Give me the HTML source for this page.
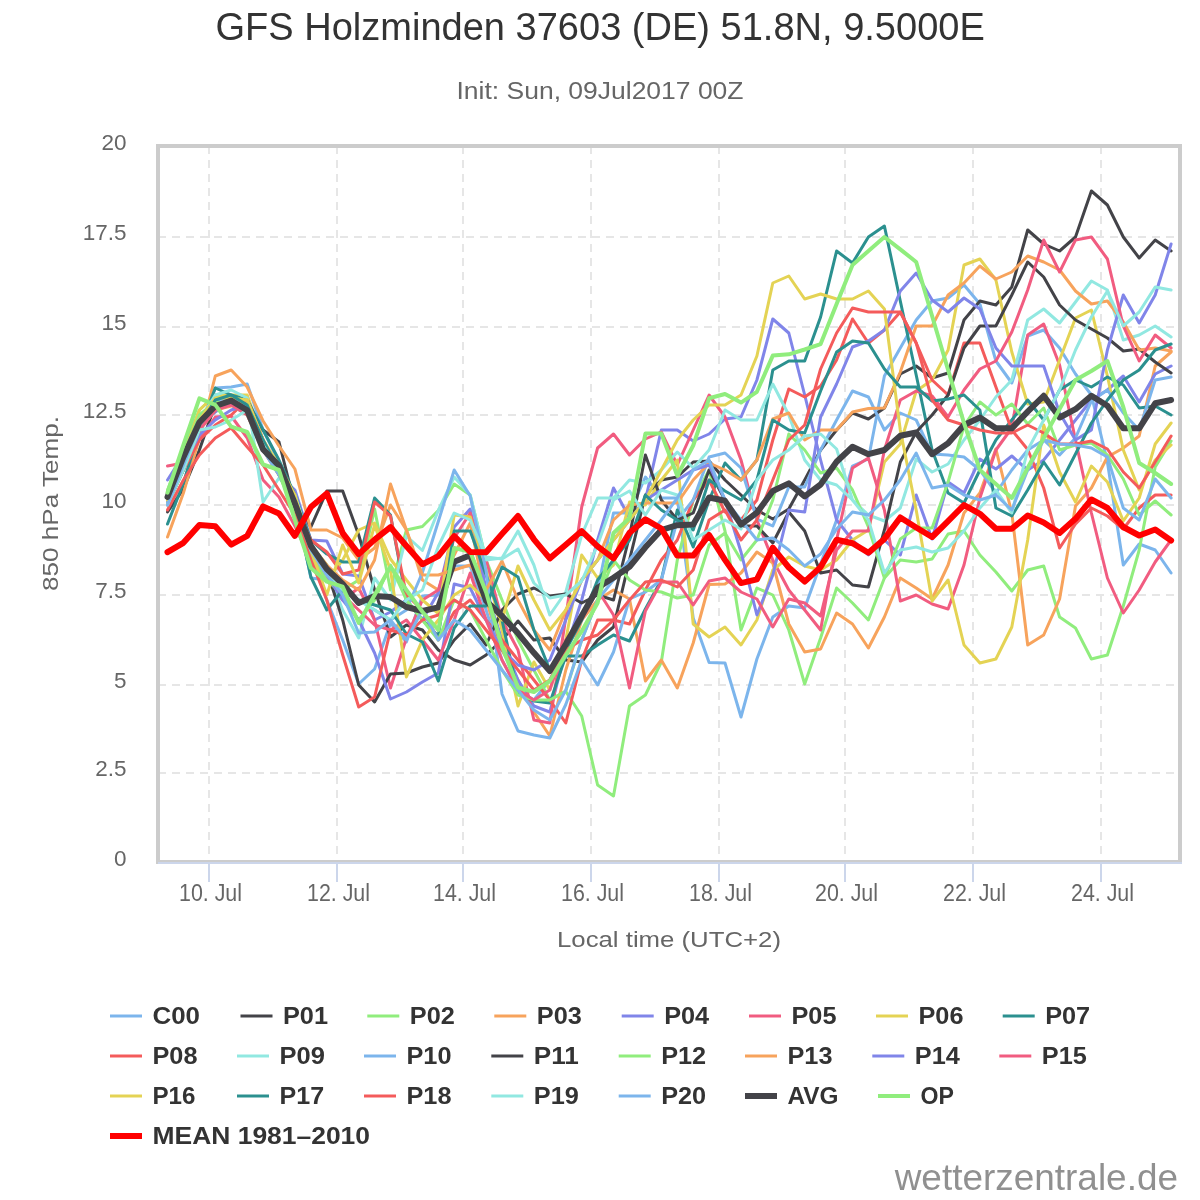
<!DOCTYPE html><html><head><meta charset="utf-8"><style>html,body{margin:0;padding:0;background:#fff;}svg{display:block;will-change:transform;}text{font-family:"Liberation Sans",sans-serif;}</style></head><body>
<svg width="1200" height="1200" viewBox="0 0 1200 1200">
<rect x="0" y="0" width="1200" height="1200" fill="#ffffff"/>
<text x="215.5" y="40" font-size="38.5" fill="#333333" text-anchor="start" font-weight="normal" textLength="769.3" lengthAdjust="spacingAndGlyphs">GFS Holzminden 37603 (DE) 51.8N, 9.5000E</text>
<text x="456.5" y="99.3" font-size="23" fill="#666666" text-anchor="start" font-weight="normal" textLength="287" lengthAdjust="spacingAndGlyphs">Init: Sun, 09Jul2017 00Z</text>
<line x1="158" y1="773.0" x2="1180" y2="773.0" stroke="#e6e6e6" stroke-width="2" stroke-dasharray="8,6"/>
<line x1="158" y1="685.0" x2="1180" y2="685.0" stroke="#e6e6e6" stroke-width="2" stroke-dasharray="8,6"/>
<line x1="158" y1="595.0" x2="1180" y2="595.0" stroke="#e6e6e6" stroke-width="2" stroke-dasharray="8,6"/>
<line x1="158" y1="505.0" x2="1180" y2="505.0" stroke="#e6e6e6" stroke-width="2" stroke-dasharray="8,6"/>
<line x1="158" y1="415.0" x2="1180" y2="415.0" stroke="#e6e6e6" stroke-width="2" stroke-dasharray="8,6"/>
<line x1="158" y1="327.0" x2="1180" y2="327.0" stroke="#e6e6e6" stroke-width="2" stroke-dasharray="8,6"/>
<line x1="158" y1="237.0" x2="1180" y2="237.0" stroke="#e6e6e6" stroke-width="2" stroke-dasharray="8,6"/>
<line x1="209.0" y1="146" x2="209.0" y2="862" stroke="#e6e6e6" stroke-width="2" stroke-dasharray="8,6"/>
<line x1="337.0" y1="146" x2="337.0" y2="862" stroke="#e6e6e6" stroke-width="2" stroke-dasharray="8,6"/>
<line x1="463.0" y1="146" x2="463.0" y2="862" stroke="#e6e6e6" stroke-width="2" stroke-dasharray="8,6"/>
<line x1="591.0" y1="146" x2="591.0" y2="862" stroke="#e6e6e6" stroke-width="2" stroke-dasharray="8,6"/>
<line x1="719.0" y1="146" x2="719.0" y2="862" stroke="#e6e6e6" stroke-width="2" stroke-dasharray="8,6"/>
<line x1="845.0" y1="146" x2="845.0" y2="862" stroke="#e6e6e6" stroke-width="2" stroke-dasharray="8,6"/>
<line x1="973.0" y1="146" x2="973.0" y2="862" stroke="#e6e6e6" stroke-width="2" stroke-dasharray="8,6"/>
<line x1="1101.0" y1="146" x2="1101.0" y2="862" stroke="#e6e6e6" stroke-width="2" stroke-dasharray="8,6"/>
<polyline points="167.5,502.0 183.4,470.0 199.4,430.0 215.3,388.0 231.2,387.0 247.2,384.0 263.1,430.0 279.0,462.0 294.9,495.0 310.9,555.0 326.8,600.0 342.7,640.0 358.7,684.0 374.6,669.0 390.5,623.0 406.4,642.0 422.4,596.0 438.3,595.0 454.2,566.0 470.2,566.0 486.1,610.0 502.0,660.0 518.0,690.0 533.9,700.0 549.8,680.0 565.8,650.0 581.7,620.0 597.6,590.0 613.5,513.0 629.5,513.0 645.4,477.0 661.3,498.0 677.3,498.0 693.2,618.0 709.1,662.5 725.0,663.0 741.0,717.0 756.9,659.0 772.8,617.0 788.8,606.0 804.7,608.0 820.6,564.0 836.6,520.0 852.5,466.0 868.4,459.0 884.4,376.0 900.3,348.0 916.2,320.0 932.1,301.0 948.1,298.0 964.0,285.0 979.9,304.0 995.9,361.0 1011.8,383.0 1027.7,336.0 1043.7,330.0 1059.6,348.0 1075.5,374.0 1091.4,395.0 1107.4,462.0 1123.3,565.0 1139.2,544.0 1155.2,550.0 1171.1,573.0" fill="none" stroke="#7cb5ec" stroke-width="3" stroke-linejoin="round" stroke-linecap="round"/>
<polyline points="167.5,512.0 183.4,489.0 199.4,450.0 215.3,404.0 231.2,404.0 247.2,412.0 263.1,430.0 279.0,442.0 294.9,505.0 310.9,527.0 326.8,491.0 342.7,491.0 358.7,535.0 374.6,590.0 390.5,637.0 406.4,625.0 422.4,630.0 438.3,650.0 454.2,660.0 470.2,665.0 486.1,655.0 502.0,640.0 518.0,621.0 533.9,640.0 549.8,638.0 565.8,660.0 581.7,662.0 597.6,640.0 613.5,627.0 629.5,560.0 645.4,495.0 661.3,480.0 677.3,477.0 693.2,462.0 709.1,461.0 725.0,480.0 741.0,495.0 756.9,510.0 772.8,519.0 788.8,509.0 804.7,480.0 820.6,450.0 836.6,430.0 852.5,413.0 868.4,419.0 884.4,408.0 900.3,374.0 916.2,366.0 932.1,378.0 948.1,373.0 964.0,320.0 979.9,301.0 995.9,305.0 1011.8,287.0 1027.7,230.0 1043.7,244.0 1059.6,251.0 1075.5,237.0 1091.4,191.0 1107.4,205.0 1123.3,237.0 1139.2,258.0 1155.2,240.0 1171.1,251.0" fill="none" stroke="#434348" stroke-width="3" stroke-linejoin="round" stroke-linecap="round"/>
<polyline points="167.5,490.0 183.4,450.0 199.4,410.0 215.3,395.0 231.2,400.0 247.2,410.0 263.1,440.0 279.0,470.0 294.9,500.0 310.9,545.0 326.8,565.0 342.7,590.0 358.7,580.0 374.6,509.0 390.5,590.0 406.4,530.0 422.4,526.5 438.3,510.5 454.2,484.0 470.2,495.0 486.1,560.0 502.0,600.0 518.0,640.0 533.9,670.0 549.8,700.0 565.8,691.5 581.7,716.0 597.6,785.0 613.5,796.0 629.5,706.0 645.4,695.0 661.3,662.0 677.3,560.0 693.2,500.0 709.1,470.0 725.0,531.0 741.0,630.0 756.9,588.0 772.8,595.0 788.8,630.0 804.7,684.0 820.6,638.0 836.6,588.0 852.5,603.0 868.4,620.0 884.4,578.0 900.3,560.0 916.2,562.0 932.1,559.0 948.1,534.0 964.0,531.0 979.9,555.0 995.9,572.0 1011.8,591.0 1027.7,570.0 1043.7,566.0 1059.6,617.0 1075.5,628.0 1091.4,659.0 1107.4,655.0 1123.3,606.0 1139.2,550.0 1155.2,467.0 1171.1,441.0" fill="none" stroke="#90ed7d" stroke-width="3" stroke-linejoin="round" stroke-linecap="round"/>
<polyline points="167.5,537.0 183.4,493.0 199.4,438.0 215.3,376.0 231.2,370.0 247.2,387.0 263.1,421.0 279.0,446.0 294.9,469.0 310.9,530.0 326.8,530.0 342.7,538.0 358.7,560.0 374.6,548.0 390.5,505.0 406.4,530.0 422.4,580.0 438.3,590.0 454.2,555.0 470.2,523.0 486.1,600.0 502.0,650.0 518.0,680.0 533.9,712.0 549.8,736.0 565.8,670.0 581.7,620.0 597.6,600.0 613.5,590.0 629.5,599.0 645.4,681.0 661.3,660.0 677.3,688.0 693.2,643.0 709.1,584.5 725.0,584.0 741.0,573.0 756.9,552.0 772.8,563.0 788.8,624.0 804.7,652.0 820.6,649.0 836.6,613.0 852.5,624.0 868.4,648.0 884.4,617.0 900.3,578.0 916.2,588.0 932.1,599.0 948.1,565.0 964.0,513.0 979.9,493.0 995.9,449.0 1011.8,513.0 1027.7,645.0 1043.7,635.0 1059.6,599.0 1075.5,506.0 1091.4,488.0 1107.4,457.0 1123.3,448.0 1139.2,436.0 1155.2,366.0 1171.1,352.0" fill="none" stroke="#f7a35c" stroke-width="3" stroke-linejoin="round" stroke-linecap="round"/>
<polyline points="167.5,480.0 183.4,455.0 199.4,425.0 215.3,412.0 231.2,400.0 247.2,400.0 263.1,440.0 279.0,475.0 294.9,490.0 310.9,540.0 326.8,541.0 342.7,574.0 358.7,576.0 374.6,620.0 390.5,612.0 406.4,600.0 422.4,620.0 438.3,592.5 454.2,527.0 470.2,509.0 486.1,590.0 502.0,640.0 518.0,680.0 533.9,706.0 549.8,712.0 565.8,650.0 581.7,600.0 597.6,540.0 613.5,488.0 629.5,518.0 645.4,500.0 661.3,430.0 677.3,430.0 693.2,441.0 709.1,434.0 725.0,419.0 741.0,417.0 756.9,380.0 772.8,319.0 788.8,333.0 804.7,395.0 820.6,460.0 836.6,520.0 852.5,540.0 868.4,555.0 884.4,540.0 900.3,555.0 916.2,495.0 932.1,539.0 948.1,482.0 964.0,493.0 979.9,459.0 995.9,469.0 1011.8,456.0 1027.7,470.0 1043.7,460.0 1059.6,440.0 1075.5,420.0 1091.4,400.0 1107.4,390.0 1123.3,376.0 1139.2,402.0 1155.2,374.0 1171.1,366.0" fill="none" stroke="#8085e9" stroke-width="3" stroke-linejoin="round" stroke-linecap="round"/>
<polyline points="167.5,466.0 183.4,463.0 199.4,440.0 215.3,417.0 231.2,416.0 247.2,438.0 263.1,480.0 279.0,497.0 294.9,526.0 310.9,560.0 326.8,580.0 342.7,600.0 358.7,588.0 374.6,620.0 390.5,688.0 406.4,638.0 422.4,600.0 438.3,590.0 454.2,538.0 470.2,513.0 486.1,560.0 502.0,620.0 518.0,650.0 533.9,720.0 549.8,723.0 565.8,617.5 581.7,507.0 597.6,448.0 613.5,434.0 629.5,455.0 645.4,439.0 661.3,432.0 677.3,465.0 693.2,430.0 709.1,395.0 725.0,417.0 741.0,460.0 756.9,520.0 772.8,560.0 788.8,590.0 804.7,610.0 820.6,630.0 836.6,540.0 852.5,468.0 868.4,458.0 884.4,510.0 900.3,601.0 916.2,595.0 932.1,604.0 948.1,609.0 964.0,565.0 979.9,498.0 995.9,450.0 1011.8,428.0 1027.7,335.0 1043.7,324.0 1059.6,365.0 1075.5,440.0 1091.4,513.0 1107.4,578.0 1123.3,613.0 1139.2,590.0 1155.2,562.0 1171.1,540.0" fill="none" stroke="#f15c80" stroke-width="3" stroke-linejoin="round" stroke-linecap="round"/>
<polyline points="167.5,495.0 183.4,455.0 199.4,410.0 215.3,395.0 231.2,395.0 247.2,395.0 263.1,440.0 279.0,470.0 294.9,500.0 310.9,560.0 326.8,580.0 342.7,560.0 358.7,530.0 374.6,523.0 390.5,559.0 406.4,580.0 422.4,600.0 438.3,613.5 454.2,515.0 470.2,517.0 486.1,570.0 502.0,630.0 518.0,706.0 533.9,662.0 549.8,690.0 565.8,640.0 581.7,555.0 597.6,578.0 613.5,565.0 629.5,502.0 645.4,505.0 661.3,480.0 677.3,460.0 693.2,624.0 709.1,637.0 725.0,627.0 741.0,645.0 756.9,620.0 772.8,570.0 788.8,557.0 804.7,566.0 820.6,570.0 836.6,560.0 852.5,540.0 868.4,530.0 884.4,462.0 900.3,444.0 916.2,391.0 932.1,380.0 948.1,350.0 964.0,265.0 979.9,259.0 995.9,280.0 1011.8,352.0 1027.7,404.0 1043.7,402.0 1059.6,360.0 1075.5,318.0 1091.4,310.0 1107.4,376.0 1123.3,450.0 1139.2,490.0 1155.2,460.0 1171.1,445.0" fill="none" stroke="#e4d354" stroke-width="3" stroke-linejoin="round" stroke-linecap="round"/>
<polyline points="167.5,524.0 183.4,483.0 199.4,430.0 215.3,388.0 231.2,395.0 247.2,400.0 263.1,430.0 279.0,460.0 294.9,495.0 310.9,540.0 326.8,554.0 342.7,562.0 358.7,562.0 374.6,498.0 390.5,515.0 406.4,600.0 422.4,620.0 438.3,636.0 454.2,531.0 470.2,531.0 486.1,575.0 502.0,620.0 518.0,694.0 533.9,701.0 549.8,703.0 565.8,656.0 581.7,656.0 597.6,645.0 613.5,635.0 629.5,641.0 645.4,609.0 661.3,580.0 677.3,510.0 693.2,547.0 709.1,500.0 725.0,463.0 741.0,480.0 756.9,460.0 772.8,370.0 788.8,361.0 804.7,361.0 820.6,317.0 836.6,251.0 852.5,263.0 868.4,237.0 884.4,226.0 900.3,301.0 916.2,375.0 932.1,450.0 948.1,493.0 964.0,503.0 979.9,470.0 995.9,440.0 1011.8,420.0 1027.7,400.0 1043.7,420.0 1059.6,390.0 1075.5,380.0 1091.4,387.0 1107.4,377.0 1123.3,385.0 1139.2,408.0 1155.2,406.0 1171.1,415.0" fill="none" stroke="#2b908f" stroke-width="3" stroke-linejoin="round" stroke-linecap="round"/>
<polyline points="167.5,493.0 183.4,470.0 199.4,440.0 215.3,425.0 231.2,415.0 247.2,400.0 263.1,440.0 279.0,475.0 294.9,505.0 310.9,540.0 326.8,552.0 342.7,574.0 358.7,570.0 374.6,502.0 390.5,516.0 406.4,595.0 422.4,610.0 438.3,640.0 454.2,612.0 470.2,600.0 486.1,620.0 502.0,640.0 518.0,660.0 533.9,680.0 549.8,700.0 565.8,723.0 581.7,660.0 597.6,620.0 613.5,620.0 629.5,624.0 645.4,590.0 661.3,560.0 677.3,540.0 693.2,500.0 709.1,480.0 725.0,512.0 741.0,520.0 756.9,500.0 772.8,440.0 788.8,389.0 804.7,397.0 820.6,386.0 836.6,360.0 852.5,319.0 868.4,343.0 884.4,330.0 900.3,312.0 916.2,343.0 932.1,380.0 948.1,395.0 964.0,343.0 979.9,343.0 995.9,387.0 1011.8,430.0 1027.7,449.5 1043.7,488.0 1059.6,548.0 1075.5,524.0 1091.4,508.0 1107.4,516.0 1123.3,529.0 1139.2,508.0 1155.2,495.0 1171.1,495.0" fill="none" stroke="#f45b5b" stroke-width="3" stroke-linejoin="round" stroke-linecap="round"/>
<polyline points="167.5,500.0 183.4,460.0 199.4,420.0 215.3,395.0 231.2,390.0 247.2,398.0 263.1,502.0 279.0,478.0 294.9,495.0 310.9,545.0 326.8,570.0 342.7,610.0 358.7,638.0 374.6,578.0 390.5,600.0 406.4,536.0 422.4,550.5 438.3,510.5 454.2,477.0 470.2,495.0 486.1,560.0 502.0,558.0 518.0,531.0 533.9,565.0 549.8,615.0 565.8,592.0 581.7,535.0 597.6,498.0 613.5,498.0 629.5,480.0 645.4,483.0 661.3,470.0 677.3,452.0 693.2,468.0 709.1,450.0 725.0,410.0 741.0,420.0 756.9,420.0 772.8,384.0 788.8,415.0 804.7,460.0 820.6,480.0 836.6,485.0 852.5,500.0 868.4,515.0 884.4,521.0 900.3,508.0 916.2,459.0 932.1,472.0 948.1,464.0 964.0,440.0 979.9,420.0 995.9,397.0 1011.8,380.0 1027.7,320.0 1043.7,309.0 1059.6,323.0 1075.5,302.0 1091.4,281.0 1107.4,290.0 1123.3,340.0 1139.2,335.0 1155.2,326.0 1171.1,337.0" fill="none" stroke="#91e8e1" stroke-width="3" stroke-linejoin="round" stroke-linecap="round"/>
<polyline points="167.5,497.0 183.4,460.0 199.4,420.0 215.3,400.0 231.2,398.0 247.2,405.0 263.1,445.0 279.0,470.0 294.9,500.0 310.9,578.0 326.8,580.0 342.7,590.0 358.7,600.0 374.6,610.0 390.5,620.0 406.4,610.0 422.4,572.5 438.3,521.5 454.2,470.0 470.2,496.0 486.1,571.0 502.0,694.0 518.0,731.0 533.9,735.0 549.8,738.0 565.8,704.5 581.7,660.0 597.6,685.0 613.5,652.0 629.5,599.0 645.4,592.0 661.3,580.0 677.3,520.0 693.2,500.0 709.1,457.0 725.0,453.0 741.0,468.0 756.9,519.0 772.8,526.0 788.8,487.0 804.7,487.0 820.6,450.0 836.6,420.0 852.5,391.0 868.4,397.0 884.4,430.0 900.3,413.0 916.2,420.0 932.1,454.0 948.1,455.0 964.0,457.0 979.9,470.0 995.9,493.0 1011.8,470.0 1027.7,450.0 1043.7,440.0 1059.6,455.0 1075.5,438.0 1091.4,401.0 1107.4,390.0 1123.3,413.0 1139.2,430.0 1155.2,380.0 1171.1,377.0" fill="none" stroke="#7cb5ec" stroke-width="3" stroke-linejoin="round" stroke-linecap="round"/>
<polyline points="167.5,500.0 183.4,465.0 199.4,430.0 215.3,410.0 231.2,402.0 247.2,410.0 263.1,445.0 279.0,470.0 294.9,505.0 310.9,545.0 326.8,570.0 342.7,620.0 358.7,685.0 374.6,702.0 390.5,674.0 406.4,673.0 422.4,667.0 438.3,663.0 454.2,640.0 470.2,624.0 486.1,645.0 502.0,610.0 518.0,594.0 533.9,588.0 549.8,596.0 565.8,594.0 581.7,603.0 597.6,595.0 613.5,600.0 629.5,536.0 645.4,455.0 661.3,500.0 677.3,520.0 693.2,513.0 709.1,470.0 725.0,500.0 741.0,526.0 756.9,526.0 772.8,543.0 788.8,512.0 804.7,531.0 820.6,573.0 836.6,570.0 852.5,585.0 868.4,587.0 884.4,530.0 900.3,462.0 916.2,432.0 932.1,415.0 948.1,395.0 964.0,348.0 979.9,326.0 995.9,326.0 1011.8,295.0 1027.7,262.0 1043.7,277.0 1059.6,305.0 1075.5,320.0 1091.4,329.0 1107.4,338.0 1123.3,351.0 1139.2,349.0 1155.2,362.0 1171.1,373.0" fill="none" stroke="#434348" stroke-width="3" stroke-linejoin="round" stroke-linecap="round"/>
<polyline points="167.5,495.0 183.4,455.0 199.4,415.0 215.3,402.0 231.2,405.0 247.2,415.0 263.1,450.0 279.0,475.0 294.9,510.0 310.9,555.0 326.8,580.0 342.7,595.0 358.7,620.0 374.6,600.0 390.5,565.0 406.4,600.0 422.4,620.0 438.3,640.0 454.2,600.0 470.2,610.0 486.1,640.0 502.0,670.0 518.0,695.0 533.9,700.0 549.8,700.0 565.8,691.0 581.7,640.0 597.6,600.0 613.5,560.0 629.5,580.0 645.4,590.0 661.3,592.0 677.3,598.0 693.2,595.0 709.1,545.0 725.0,533.0 741.0,560.0 756.9,540.0 772.8,500.0 788.8,434.0 804.7,450.0 820.6,473.0 836.6,468.0 852.5,490.0 868.4,527.0 884.4,578.0 900.3,539.0 916.2,528.0 932.1,528.0 948.1,482.0 964.0,426.0 979.9,402.0 995.9,415.0 1011.8,404.0 1027.7,424.0 1043.7,408.0 1059.6,450.0 1075.5,445.0 1091.4,443.0 1107.4,455.0 1123.3,479.0 1139.2,515.0 1155.2,501.0 1171.1,515.0" fill="none" stroke="#90ed7d" stroke-width="3" stroke-linejoin="round" stroke-linecap="round"/>
<polyline points="167.5,505.0 183.4,470.0 199.4,430.0 215.3,410.0 231.2,406.0 247.2,400.0 263.1,440.0 279.0,470.0 294.9,500.0 310.9,545.0 326.8,565.0 342.7,580.0 358.7,590.0 374.6,560.0 390.5,484.0 406.4,530.0 422.4,575.0 438.3,575.0 454.2,570.0 470.2,565.0 486.1,590.0 502.0,561.0 518.0,600.0 533.9,630.0 549.8,650.0 565.8,610.0 581.7,580.0 597.6,560.0 613.5,520.0 629.5,505.0 645.4,503.0 661.3,503.0 677.3,503.0 693.2,480.0 709.1,463.0 725.0,470.0 741.0,480.0 756.9,460.0 772.8,419.0 788.8,413.0 804.7,440.0 820.6,430.0 836.6,430.0 852.5,412.0 868.4,408.5 884.4,408.0 900.3,372.0 916.2,326.0 932.1,326.0 948.1,295.0 964.0,283.0 979.9,266.0 995.9,279.0 1011.8,272.0 1027.7,256.0 1043.7,262.0 1059.6,270.0 1075.5,291.0 1091.4,304.0 1107.4,301.0 1123.3,322.0 1139.2,350.0 1155.2,348.0 1171.1,351.0" fill="none" stroke="#f7a35c" stroke-width="3" stroke-linejoin="round" stroke-linecap="round"/>
<polyline points="167.5,500.0 183.4,465.0 199.4,435.0 215.3,420.0 231.2,410.0 247.2,405.0 263.1,445.0 279.0,470.0 294.9,505.0 310.9,550.0 326.8,575.0 342.7,600.0 358.7,620.0 374.6,653.0 390.5,699.0 406.4,692.0 422.4,682.0 438.3,673.0 454.2,584.0 470.2,588.0 486.1,620.0 502.0,650.0 518.0,665.0 533.9,670.0 549.8,660.0 565.8,620.0 581.7,580.0 597.6,560.0 613.5,540.0 629.5,520.0 645.4,500.0 661.3,490.0 677.3,480.0 693.2,470.0 709.1,465.0 725.0,500.0 741.0,552.0 756.9,615.0 772.8,575.0 788.8,510.0 804.7,512.0 820.6,417.0 836.6,384.0 852.5,347.0 868.4,341.0 884.4,330.0 900.3,291.0 916.2,273.0 932.1,300.0 948.1,312.0 964.0,298.0 979.9,309.0 995.9,348.0 1011.8,366.0 1027.7,366.0 1043.7,366.0 1059.6,413.0 1075.5,440.0 1091.4,430.0 1107.4,350.0 1123.3,295.0 1139.2,323.0 1155.2,295.0 1171.1,244.0" fill="none" stroke="#8085e9" stroke-width="3" stroke-linejoin="round" stroke-linecap="round"/>
<polyline points="167.5,500.0 183.4,470.0 199.4,430.0 215.3,410.0 231.2,405.0 247.2,415.0 263.1,450.0 279.0,475.0 294.9,500.0 310.9,550.0 326.8,575.0 342.7,595.0 358.7,610.0 374.6,625.0 390.5,630.0 406.4,620.0 422.4,640.0 438.3,660.0 454.2,620.0 470.2,573.0 486.1,620.0 502.0,660.0 518.0,690.0 533.9,700.0 549.8,690.0 565.8,640.0 581.7,620.0 597.6,590.0 613.5,615.0 629.5,688.0 645.4,611.0 661.3,582.0 677.3,582.0 693.2,605.0 709.1,581.0 725.0,578.0 741.0,592.0 756.9,599.0 772.8,627.0 788.8,599.0 804.7,603.0 820.6,616.0 836.6,550.0 852.5,531.0 868.4,531.0 884.4,450.0 900.3,400.0 916.2,391.0 932.1,396.0 948.1,417.0 964.0,390.0 979.9,369.0 995.9,361.0 1011.8,332.0 1027.7,290.0 1043.7,240.0 1059.6,272.0 1075.5,240.0 1091.4,237.0 1107.4,259.0 1123.3,326.0 1139.2,361.0 1155.2,335.0 1171.1,348.0" fill="none" stroke="#f15c80" stroke-width="3" stroke-linejoin="round" stroke-linecap="round"/>
<polyline points="167.5,500.0 183.4,460.0 199.4,420.0 215.3,398.0 231.2,398.0 247.2,400.0 263.1,440.0 279.0,465.0 294.9,495.0 310.9,550.0 326.8,595.0 342.7,545.0 358.7,583.0 374.6,525.0 390.5,570.0 406.4,677.0 422.4,640.0 438.3,620.0 454.2,595.0 470.2,585.0 486.1,600.0 502.0,620.0 518.0,566.0 533.9,600.0 549.8,630.0 565.8,610.0 581.7,580.0 597.6,560.0 613.5,540.0 629.5,520.0 645.4,500.0 661.3,470.0 677.3,440.0 693.2,420.0 709.1,405.0 725.0,405.0 741.0,395.0 756.9,356.0 772.8,283.0 788.8,276.0 804.7,299.0 820.6,294.0 836.6,299.0 852.5,299.0 868.4,291.0 884.4,309.0 900.3,430.0 916.2,510.0 932.1,601.0 948.1,580.0 964.0,645.0 979.9,663.0 995.9,659.0 1011.8,627.0 1027.7,540.0 1043.7,425.0 1059.6,472.0 1075.5,502.0 1091.4,466.0 1107.4,482.0 1123.3,521.0 1139.2,498.0 1155.2,444.0 1171.1,423.0" fill="none" stroke="#e4d354" stroke-width="3" stroke-linejoin="round" stroke-linecap="round"/>
<polyline points="167.5,505.0 183.4,470.0 199.4,425.0 215.3,400.0 231.2,395.0 247.2,405.0 263.1,440.0 279.0,470.0 294.9,505.0 310.9,577.0 326.8,610.0 342.7,590.0 358.7,600.0 374.6,605.0 390.5,610.0 406.4,634.0 422.4,642.0 438.3,681.0 454.2,628.0 470.2,606.0 486.1,606.0 502.0,567.0 518.0,577.0 533.9,630.0 549.8,670.0 565.8,650.0 581.7,620.0 597.6,580.0 613.5,560.0 629.5,540.0 645.4,495.0 661.3,510.0 677.3,520.0 693.2,530.0 709.1,480.0 725.0,491.0 741.0,500.0 756.9,480.0 772.8,420.0 788.8,430.0 804.7,433.0 820.6,391.0 836.6,352.0 852.5,341.0 868.4,343.0 884.4,369.0 900.3,387.0 916.2,387.0 932.1,401.0 948.1,399.0 964.0,395.0 979.9,410.0 995.9,508.0 1011.8,516.0 1027.7,490.0 1043.7,462.0 1059.6,485.0 1075.5,454.0 1091.4,423.0 1107.4,400.0 1123.3,380.0 1139.2,370.0 1155.2,350.0 1171.1,344.0" fill="none" stroke="#2b908f" stroke-width="3" stroke-linejoin="round" stroke-linecap="round"/>
<polyline points="167.5,510.0 183.4,480.0 199.4,455.0 215.3,438.0 231.2,428.0 247.2,447.0 263.1,465.0 279.0,490.0 294.9,515.0 310.9,560.0 326.8,600.0 342.7,655.0 358.7,707.0 374.6,697.0 390.5,630.0 406.4,635.0 422.4,620.0 438.3,615.0 454.2,600.0 470.2,610.0 486.1,630.0 502.0,650.0 518.0,670.0 533.9,690.0 549.8,680.0 565.8,650.0 581.7,640.0 597.6,635.0 613.5,620.0 629.5,600.0 645.4,582.0 661.3,580.0 677.3,587.0 693.2,570.0 709.1,520.0 725.0,510.0 741.0,540.0 756.9,520.0 772.8,480.0 788.8,440.0 804.7,425.0 820.6,369.0 836.6,333.0 852.5,308.0 868.4,312.0 884.4,312.0 900.3,312.0 916.2,343.0 932.1,400.0 948.1,420.0 964.0,425.0 979.9,430.0 995.9,433.0 1011.8,433.0 1027.7,425.0 1043.7,433.0 1059.6,444.0 1075.5,444.0 1091.4,441.0 1107.4,449.0 1123.3,472.0 1139.2,488.0 1155.2,462.0 1171.1,436.0" fill="none" stroke="#f45b5b" stroke-width="3" stroke-linejoin="round" stroke-linecap="round"/>
<polyline points="167.5,505.0 183.4,470.0 199.4,430.0 215.3,427.0 231.2,420.0 247.2,410.0 263.1,445.0 279.0,470.0 294.9,500.0 310.9,550.0 326.8,575.0 342.7,590.0 358.7,600.0 374.6,610.0 390.5,620.0 406.4,600.0 422.4,590.0 438.3,546.5 454.2,513.0 470.2,520.0 486.1,557.0 502.0,559.0 518.0,549.0 533.9,583.0 549.8,598.0 565.8,595.0 581.7,581.0 597.6,545.0 613.5,500.0 629.5,491.0 645.4,515.0 661.3,490.0 677.3,495.0 693.2,540.0 709.1,530.0 725.0,520.0 741.0,529.0 756.9,480.0 772.8,460.0 788.8,450.0 804.7,436.0 820.6,434.0 836.6,449.0 852.5,500.0 868.4,520.0 884.4,573.0 900.3,550.0 916.2,547.0 932.1,552.0 948.1,548.0 964.0,531.0 979.9,508.0 995.9,490.0 1011.8,513.0 1027.7,450.0 1043.7,420.0 1059.6,390.0 1075.5,350.0 1091.4,317.0 1107.4,291.0 1123.3,326.0 1139.2,312.0 1155.2,287.0 1171.1,290.0" fill="none" stroke="#91e8e1" stroke-width="3" stroke-linejoin="round" stroke-linecap="round"/>
<polyline points="167.5,505.0 183.4,465.0 199.4,425.0 215.3,405.0 231.2,400.0 247.2,410.0 263.1,450.0 279.0,475.0 294.9,505.0 310.9,550.0 326.8,575.0 342.7,595.0 358.7,633.0 374.6,632.0 390.5,620.0 406.4,640.0 422.4,610.0 438.3,640.0 454.2,620.0 470.2,630.0 486.1,650.0 502.0,670.0 518.0,690.0 533.9,710.0 549.8,720.0 565.8,690.0 581.7,640.0 597.6,600.0 613.5,580.0 629.5,560.0 645.4,540.0 661.3,520.0 677.3,498.0 693.2,470.0 709.1,460.0 725.0,500.0 741.0,520.0 756.9,540.0 772.8,538.0 788.8,550.0 804.7,566.0 820.6,554.0 836.6,529.0 852.5,512.0 868.4,515.0 884.4,500.0 900.3,480.0 916.2,453.0 932.1,488.0 948.1,485.0 964.0,495.0 979.9,500.0 995.9,495.0 1011.8,510.0 1027.7,470.0 1043.7,440.0 1059.6,444.0 1075.5,445.0 1091.4,448.0 1107.4,457.0 1123.3,508.0 1139.2,520.0 1155.2,479.0 1171.1,498.0" fill="none" stroke="#7cb5ec" stroke-width="3" stroke-linejoin="round" stroke-linecap="round"/>
<polyline points="167.5,497.0 183.4,456.9 199.4,422.3 215.3,406.0 231.2,400.6 247.2,410.3 263.1,449.3 279.0,465.6 294.9,503.5 310.9,546.0 326.8,569.0 342.7,584.0 358.7,603.0 374.6,596.0 390.5,597.0 406.4,607.0 422.4,611.0 438.3,607.3 454.2,561.8 470.2,555.3 486.1,600.8 502.0,616.0 518.0,633.3 533.9,652.8 549.8,671.0 565.8,644.2 581.7,616.0 597.6,587.8 613.5,577.7 629.5,566.8 645.4,547.3 661.3,530.0 677.3,525.2 693.2,524.6 709.1,497.5 725.0,500.8 741.0,524.6 756.9,512.7 772.8,491.0 788.8,483.4 804.7,496.4 820.6,484.5 836.6,461.8 852.5,446.7 868.4,454.2 884.4,450.0 900.3,435.8 916.2,432.5 932.1,454.2 948.1,443.3 964.0,425.0 979.9,417.5 995.9,428.3 1011.8,428.3 1027.7,411.7 1043.7,395.8 1059.6,417.5 1075.5,409.2 1091.4,395.8 1107.4,405.8 1123.3,428.3 1139.2,428.3 1155.2,403.3 1171.1,400.0" fill="none" stroke="#434348" stroke-width="6" stroke-linejoin="round" stroke-linecap="round"/>
<polyline points="167.5,492.7 183.4,445.0 199.4,398.4 215.3,404.9 231.2,426.6 247.2,432.0 263.1,464.5 279.0,470.0 294.9,520.0 310.9,568.0 326.8,581.7 342.7,586.7 358.7,623.0 374.6,595.0 390.5,566.7 406.4,590.0 422.4,611.7 438.3,630.0 454.2,548.0 470.2,551.7 486.1,592.2 502.0,646.4 518.0,687.5 533.9,692.0 549.8,681.0 565.8,655.0 581.7,631.2 597.6,603.0 613.5,533.0 629.5,518.0 645.4,433.6 661.3,433.6 677.3,475.8 693.2,445.5 709.1,398.3 725.0,394.0 741.0,402.6 756.9,391.8 772.8,355.6 788.8,354.3 804.7,349.5 820.6,344.1 836.6,304.0 852.5,265.0 868.4,251.0 884.4,237.0 900.3,249.3 916.2,262.0 932.1,316.0 948.1,370.0 964.0,423.0 979.9,470.0 995.9,484.0 1011.8,498.0 1027.7,468.0 1043.7,438.0 1059.6,409.0 1075.5,380.0 1091.4,371.0 1107.4,361.0 1123.3,407.0 1139.2,463.0 1155.2,473.0 1171.1,484.0" fill="none" stroke="#90ed7d" stroke-width="4" stroke-linejoin="round" stroke-linecap="round"/>
<polyline points="167.5,552.2 183.4,542.8 199.4,525.1 215.3,526.2 231.2,544.6 247.2,535.9 263.1,506.4 279.0,513.6 294.9,535.9 310.9,507.1 326.8,493.4 342.7,533.1 358.7,554.1 374.6,539.6 390.5,527.2 406.4,546.0 422.4,564.3 438.3,556.2 454.2,536.1 470.2,551.9 486.1,552.3 502.0,533.9 518.0,515.9 533.9,539.3 549.8,558.4 565.8,544.8 581.7,531.1 597.6,546.3 613.5,558.4 629.5,532.8 645.4,519.4 661.3,528.5 677.3,555.6 693.2,555.6 709.1,535.0 725.0,559.9 741.0,583.1 756.9,579.4 772.8,547.6 788.8,567.5 804.7,581.6 820.6,567.1 836.6,539.8 852.5,543.2 868.4,552.8 884.4,538.9 900.3,517.5 916.2,527.5 932.1,537.0 948.1,521.2 964.0,505.0 979.9,513.8 995.9,528.8 1011.8,528.8 1027.7,515.5 1043.7,522.5 1059.6,533.0 1075.5,518.8 1091.4,499.5 1107.4,508.0 1123.3,527.0 1139.2,535.5 1155.2,529.5 1171.1,540.5" fill="none" stroke="#ff0000" stroke-width="6" stroke-linejoin="round" stroke-linecap="round"/>
<rect x="158" y="146" width="1022" height="716" fill="none" stroke="#cccccc" stroke-width="4"/>
<line x1="158" y1="863" x2="1182" y2="863" stroke="#ccd6eb" stroke-width="2"/>
<line x1="209.0" y1="862" x2="209.0" y2="882" stroke="#ccd6eb" stroke-width="2"/>
<line x1="337.0" y1="862" x2="337.0" y2="882" stroke="#ccd6eb" stroke-width="2"/>
<line x1="463.0" y1="862" x2="463.0" y2="882" stroke="#ccd6eb" stroke-width="2"/>
<line x1="591.0" y1="862" x2="591.0" y2="882" stroke="#ccd6eb" stroke-width="2"/>
<line x1="719.0" y1="862" x2="719.0" y2="882" stroke="#ccd6eb" stroke-width="2"/>
<line x1="845.0" y1="862" x2="845.0" y2="882" stroke="#ccd6eb" stroke-width="2"/>
<line x1="973.0" y1="862" x2="973.0" y2="882" stroke="#ccd6eb" stroke-width="2"/>
<line x1="1101.0" y1="862" x2="1101.0" y2="882" stroke="#ccd6eb" stroke-width="2"/>
<text x="126.5" y="866" font-size="22.5" fill="#666666" text-anchor="end" font-weight="normal">0</text>
<text x="126.5" y="776" font-size="22.5" fill="#666666" text-anchor="end" font-weight="normal">2.5</text>
<text x="126.5" y="688" font-size="22.5" fill="#666666" text-anchor="end" font-weight="normal">5</text>
<text x="126.5" y="598" font-size="22.5" fill="#666666" text-anchor="end" font-weight="normal">7.5</text>
<text x="126.5" y="508" font-size="22.5" fill="#666666" text-anchor="end" font-weight="normal">10</text>
<text x="126.5" y="418" font-size="22.5" fill="#666666" text-anchor="end" font-weight="normal">12.5</text>
<text x="126.5" y="330" font-size="22.5" fill="#666666" text-anchor="end" font-weight="normal">15</text>
<text x="126.5" y="240" font-size="22.5" fill="#666666" text-anchor="end" font-weight="normal">17.5</text>
<text x="126.5" y="150" font-size="22.5" fill="#666666" text-anchor="end" font-weight="normal">20</text>
<text x="210.5" y="900.5" font-size="23.5" fill="#666666" text-anchor="middle" font-weight="normal" textLength="63" lengthAdjust="spacingAndGlyphs">10. Jul</text>
<text x="338.5" y="900.5" font-size="23.5" fill="#666666" text-anchor="middle" font-weight="normal" textLength="63" lengthAdjust="spacingAndGlyphs">12. Jul</text>
<text x="464.5" y="900.5" font-size="23.5" fill="#666666" text-anchor="middle" font-weight="normal" textLength="63" lengthAdjust="spacingAndGlyphs">14. Jul</text>
<text x="592.5" y="900.5" font-size="23.5" fill="#666666" text-anchor="middle" font-weight="normal" textLength="63" lengthAdjust="spacingAndGlyphs">16. Jul</text>
<text x="720.5" y="900.5" font-size="23.5" fill="#666666" text-anchor="middle" font-weight="normal" textLength="63" lengthAdjust="spacingAndGlyphs">18. Jul</text>
<text x="846.5" y="900.5" font-size="23.5" fill="#666666" text-anchor="middle" font-weight="normal" textLength="63" lengthAdjust="spacingAndGlyphs">20. Jul</text>
<text x="974.5" y="900.5" font-size="23.5" fill="#666666" text-anchor="middle" font-weight="normal" textLength="63" lengthAdjust="spacingAndGlyphs">22. Jul</text>
<text x="1102.5" y="900.5" font-size="23.5" fill="#666666" text-anchor="middle" font-weight="normal" textLength="63" lengthAdjust="spacingAndGlyphs">24. Jul</text>
<text x="781" y="947.2" font-size="22" fill="#666666" text-anchor="end" font-weight="normal" textLength="224" lengthAdjust="spacingAndGlyphs">Local time (UTC+2)</text>
<text x="0" y="0" font-size="22" fill="#666666" text-anchor="middle" textLength="175" lengthAdjust="spacingAndGlyphs" transform="translate(57.5,503.5) rotate(-90)">850 hPa Temp.</text>
<line x1="110" y1="1016" x2="142" y2="1016" stroke="#7cb5ec" stroke-width="3"/>
<text x="152.5" y="1023.8" font-size="23.5" fill="#333333" text-anchor="start" font-weight="bold" textLength="47.5" lengthAdjust="spacingAndGlyphs">C00</text>
<line x1="240.5" y1="1016" x2="272.5" y2="1016" stroke="#434348" stroke-width="3"/>
<text x="283.0" y="1023.8" font-size="23.5" fill="#333333" text-anchor="start" font-weight="bold" textLength="45" lengthAdjust="spacingAndGlyphs">P01</text>
<line x1="367.3" y1="1016" x2="399.3" y2="1016" stroke="#90ed7d" stroke-width="3"/>
<text x="409.8" y="1023.8" font-size="23.5" fill="#333333" text-anchor="start" font-weight="bold" textLength="45" lengthAdjust="spacingAndGlyphs">P02</text>
<line x1="494.3" y1="1016" x2="526.3" y2="1016" stroke="#f7a35c" stroke-width="3"/>
<text x="536.8" y="1023.8" font-size="23.5" fill="#333333" text-anchor="start" font-weight="bold" textLength="45" lengthAdjust="spacingAndGlyphs">P03</text>
<line x1="621.7" y1="1016" x2="653.7" y2="1016" stroke="#8085e9" stroke-width="3"/>
<text x="664.2" y="1023.8" font-size="23.5" fill="#333333" text-anchor="start" font-weight="bold" textLength="45" lengthAdjust="spacingAndGlyphs">P04</text>
<line x1="749" y1="1016" x2="781" y2="1016" stroke="#f15c80" stroke-width="3"/>
<text x="791.5" y="1023.8" font-size="23.5" fill="#333333" text-anchor="start" font-weight="bold" textLength="45" lengthAdjust="spacingAndGlyphs">P05</text>
<line x1="876" y1="1016" x2="908" y2="1016" stroke="#e4d354" stroke-width="3"/>
<text x="918.5" y="1023.8" font-size="23.5" fill="#333333" text-anchor="start" font-weight="bold" textLength="45" lengthAdjust="spacingAndGlyphs">P06</text>
<line x1="1002.7" y1="1016" x2="1034.7" y2="1016" stroke="#2b908f" stroke-width="3"/>
<text x="1045.2" y="1023.8" font-size="23.5" fill="#333333" text-anchor="start" font-weight="bold" textLength="45" lengthAdjust="spacingAndGlyphs">P07</text>
<line x1="110" y1="1056" x2="142" y2="1056" stroke="#f45b5b" stroke-width="3"/>
<text x="152.5" y="1063.8" font-size="23.5" fill="#333333" text-anchor="start" font-weight="bold" textLength="45" lengthAdjust="spacingAndGlyphs">P08</text>
<line x1="237" y1="1056" x2="269" y2="1056" stroke="#91e8e1" stroke-width="3"/>
<text x="279.5" y="1063.8" font-size="23.5" fill="#333333" text-anchor="start" font-weight="bold" textLength="45.4" lengthAdjust="spacingAndGlyphs">P09</text>
<line x1="364" y1="1056" x2="396" y2="1056" stroke="#7cb5ec" stroke-width="3"/>
<text x="406.5" y="1063.8" font-size="23.5" fill="#333333" text-anchor="start" font-weight="bold" textLength="45" lengthAdjust="spacingAndGlyphs">P10</text>
<line x1="491.3" y1="1056" x2="523.3" y2="1056" stroke="#434348" stroke-width="3"/>
<text x="533.8" y="1063.8" font-size="23.5" fill="#333333" text-anchor="start" font-weight="bold" textLength="45" lengthAdjust="spacingAndGlyphs">P11</text>
<line x1="618.7" y1="1056" x2="650.7" y2="1056" stroke="#90ed7d" stroke-width="3"/>
<text x="661.2" y="1063.8" font-size="23.5" fill="#333333" text-anchor="start" font-weight="bold" textLength="45" lengthAdjust="spacingAndGlyphs">P12</text>
<line x1="745" y1="1056" x2="777" y2="1056" stroke="#f7a35c" stroke-width="3"/>
<text x="787.5" y="1063.8" font-size="23.5" fill="#333333" text-anchor="start" font-weight="bold" textLength="45" lengthAdjust="spacingAndGlyphs">P13</text>
<line x1="872.3" y1="1056" x2="904.3" y2="1056" stroke="#8085e9" stroke-width="3"/>
<text x="914.8" y="1063.8" font-size="23.5" fill="#333333" text-anchor="start" font-weight="bold" textLength="45" lengthAdjust="spacingAndGlyphs">P14</text>
<line x1="999.3" y1="1056" x2="1031.3" y2="1056" stroke="#f15c80" stroke-width="3"/>
<text x="1041.8" y="1063.8" font-size="23.5" fill="#333333" text-anchor="start" font-weight="bold" textLength="45" lengthAdjust="spacingAndGlyphs">P15</text>
<line x1="110" y1="1096" x2="142" y2="1096" stroke="#e4d354" stroke-width="3"/>
<text x="152.5" y="1103.8" font-size="23.5" fill="#333333" text-anchor="start" font-weight="bold" textLength="43" lengthAdjust="spacingAndGlyphs">P16</text>
<line x1="237" y1="1096" x2="269" y2="1096" stroke="#2b908f" stroke-width="3"/>
<text x="279.5" y="1103.8" font-size="23.5" fill="#333333" text-anchor="start" font-weight="bold" textLength="44.6" lengthAdjust="spacingAndGlyphs">P17</text>
<line x1="364" y1="1096" x2="396" y2="1096" stroke="#f45b5b" stroke-width="3"/>
<text x="406.5" y="1103.8" font-size="23.5" fill="#333333" text-anchor="start" font-weight="bold" textLength="45" lengthAdjust="spacingAndGlyphs">P18</text>
<line x1="491.3" y1="1096" x2="523.3" y2="1096" stroke="#91e8e1" stroke-width="3"/>
<text x="533.8" y="1103.8" font-size="23.5" fill="#333333" text-anchor="start" font-weight="bold" textLength="45" lengthAdjust="spacingAndGlyphs">P19</text>
<line x1="618.7" y1="1096" x2="650.7" y2="1096" stroke="#7cb5ec" stroke-width="3"/>
<text x="661.2" y="1103.8" font-size="23.5" fill="#333333" text-anchor="start" font-weight="bold" textLength="45" lengthAdjust="spacingAndGlyphs">P20</text>
<line x1="745" y1="1096" x2="777" y2="1096" stroke="#434348" stroke-width="6"/>
<text x="787.5" y="1103.8" font-size="23.5" fill="#333333" text-anchor="start" font-weight="bold" textLength="51" lengthAdjust="spacingAndGlyphs">AVG</text>
<line x1="878" y1="1096" x2="910" y2="1096" stroke="#90ed7d" stroke-width="4"/>
<text x="920.5" y="1103.8" font-size="23.5" fill="#333333" text-anchor="start" font-weight="bold" textLength="33.4" lengthAdjust="spacingAndGlyphs">OP</text>
<line x1="110" y1="1136" x2="142" y2="1136" stroke="#ff0000" stroke-width="6"/>
<text x="152.5" y="1143.8" font-size="23.5" fill="#333333" text-anchor="start" font-weight="bold" textLength="217.5" lengthAdjust="spacingAndGlyphs">MEAN 1981–2010</text>
<text x="1178" y="1190" font-size="37" fill="#909090" text-anchor="end" font-weight="normal" textLength="283.3" lengthAdjust="spacingAndGlyphs">wetterzentrale.de</text>
</svg></body></html>
